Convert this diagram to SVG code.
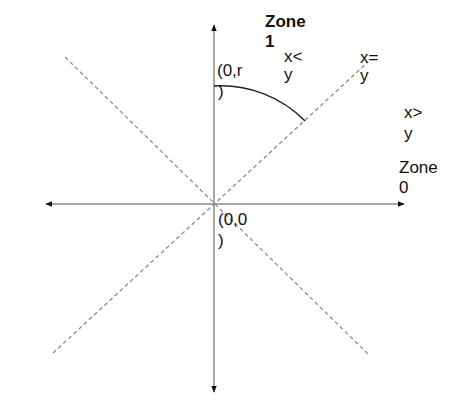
<svg xmlns="http://www.w3.org/2000/svg" width="474" height="403" viewBox="0 0 474 403">
<style>
.ax{stroke:#8a8a8a;stroke-width:1.5;fill:none}
.dash{stroke:#8a8a8a;stroke-width:1.2;stroke-dasharray:4 3;fill:none}
.arc{stroke:#222;stroke-width:1.5;fill:none}
text{font-family:"Liberation Sans",Arial,sans-serif;font-size:17px;fill:#111}
.b{font-weight:bold}
</style>
<defs>
<marker id="ah" viewBox="0 0 10 10" refX="9" refY="5" markerWidth="7" markerHeight="7" markerUnits="userSpaceOnUse" orient="auto-start-reverse">
<path d="M0,1 L10,5 L0,9 Z" fill="#111"/>
</marker>
</defs>
<rect width="474" height="403" fill="#fff"/>
<g id="connectors">
<line class="dash" x1="53" y1="353" x2="368" y2="62"/>
<line class="dash" x1="65" y1="57" x2="368" y2="354"/>
<line class="ax" x1="46" y1="204" x2="404" y2="204" marker-start="url(#ah)" marker-end="url(#ah)"/>
<line class="ax" x1="214" y1="25" x2="214" y2="392" marker-start="url(#ah)" marker-end="url(#ah)"/>
<path class="arc" d="M214,86 A118,118 0 0 1 305,121"/>
</g>
<g id="zone1"><text class="b" x="265" y="27">Zone</text><text class="b" x="265" y="47">1</text></g>
<g id="xlty"><text x="284" y="62">x&lt;</text><text x="284" y="80">y</text></g>
<g id="xeqy"><text x="360" y="63">x=</text><text x="360" y="81">y</text></g>
<g id="xgty"><text x="404" y="118">x&gt;</text><text x="404" y="139">y</text></g>
<g id="zone0"><text x="399" y="173">Zone</text><text x="399" y="193">0</text></g>
<g id="p0r"><text x="217" y="76">(0,r</text><text x="218" y="97">)</text></g>
<g id="p00"><text x="218" y="225">(0,0</text><text x="218" y="246">)</text></g>
</svg>
